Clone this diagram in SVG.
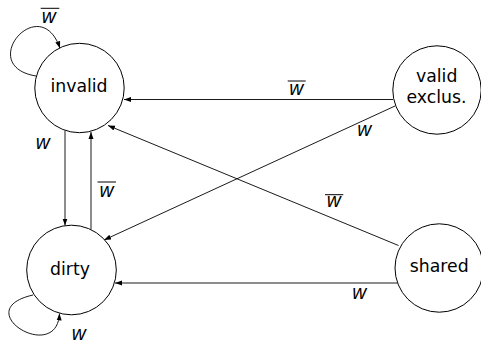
<svg xmlns="http://www.w3.org/2000/svg" width="481" height="345" viewBox="0 0 481 345">
<style>
.node circle{fill:#fff;stroke:#000;stroke-width:1}
.node text{font-family:"DejaVu Sans",sans-serif;font-size:17.3px;text-anchor:middle;fill:#000}
.edge{fill:none;stroke:#000;stroke-width:0.9;marker-end:url(#arr)}
.lbl{font-family:"Open Sans","DejaVu Sans",sans-serif;font-size:20px;font-style:italic;text-anchor:middle;fill:#000}
.bar{stroke:#000;stroke-width:1}
</style>
<defs>
<marker id="arr" markerUnits="userSpaceOnUse" markerWidth="7" markerHeight="6" viewBox="0 0 7 6" refX="7" refY="3" orient="auto">
<path d="M0,0.5 L7,3 L0,5.5 Z" fill="#000"/>
</marker>
</defs>
<rect width="481" height="345" fill="#fff"/>
<g id="connectors">
<path class="edge" d="M36,76 C-25,66 40,-10 60,48.3"/>
<path class="edge" d="M33,295 C-33,310 57,365 59.5,313.5"/>
<path class="edge" d="M393,99.5 L124,99.5"/>
<path class="edge" d="M395,106 L104,240"/>
<path class="edge" d="M398.5,245.5 L108,125.5"/>
<path class="edge" d="M397.5,283 L115,283"/>
<path class="edge" d="M65,130.6 L65,225.5"/>
<path class="edge" d="M91,229.4 L91,132"/>
<text class="lbl" x="49" y="23.3">w</text>
<line class="bar" x1="40.7" y1="8.3" x2="59.3" y2="8.3"/>
<text class="lbl" x="296.5" y="95">w</text>
<line class="bar" x1="287.7" y1="81" x2="305.7" y2="81"/>
<text class="lbl" x="364.5" y="136">w</text>
<text class="lbl" x="43" y="149.3">w</text>
<text class="lbl" x="106.7" y="197">w</text>
<line class="bar" x1="97.5" y1="182" x2="116" y2="182"/>
<text class="lbl" x="334" y="207">w</text>
<line class="bar" x1="325" y1="194.7" x2="343.3" y2="194.7"/>
<text class="lbl" x="359.5" y="299.3">w</text>
<text class="lbl" x="79" y="340">w</text>
</g>
<g id="invalid" class="node">
<circle cx="79.5" cy="88" r="44.7"/>
<text x="79" y="91.7">invalid</text>
</g>
<g id="dirty" class="node">
<circle cx="71.5" cy="270" r="44.8"/>
<text x="70" y="274.7">dirty</text>
</g>
<g id="valid-exclus" class="node">
<circle cx="437" cy="90" r="44.2"/>
<text x="436.7" y="82.3">valid</text>
<text x="436.5" y="102.7">exclus.</text>
</g>
<g id="shared" class="node">
<circle cx="439.2" cy="268" r="44.2"/>
<text x="439.2" y="272">shared</text>
</g>
</svg>
